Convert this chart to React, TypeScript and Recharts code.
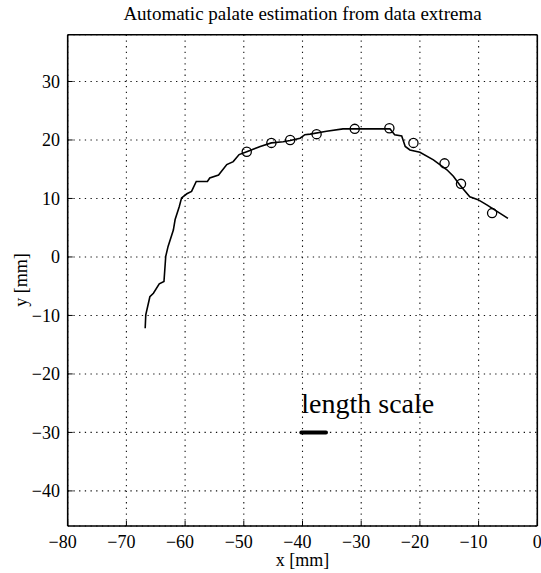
import React from 'react';
import { ComposedChart, Line, Scatter, XAxis, YAxis, CartesianGrid, ReferenceLine, ReferenceDot } from 'recharts';

const curveX = [-66.8, -66.7, -66.0, -65.4, -64.4, -63.6, -63.3, -62.9, -62.0, -61.7, -61.0, -60.6, -59.7, -58.9, -58.1, -56.2, -55.8, -54.3, -52.9, -51.8, -50.8, -49.5, -47.2, -45.3, -43.3, -42.1, -40.4, -39.6, -38.7, -35.9, -33.1, -30.2, -25.1, -24.3, -23.1, -22.5, -21.7, -20.0, -17.7, -15.4, -14.3, -13.2, -11.5, -10.1, -8.6, -6.4, -5.0];
const curveY = [-12.2, -9.9, -6.8, -6.2, -4.6, -4.2, 0.1, 1.8, 4.6, 6.4, 8.6, 10.1, 10.8, 11.2, 12.9, 12.9, 13.5, 14.0, 15.8, 16.3, 17.5, 18.0, 18.9, 19.5, 19.7, 19.9, 20.3, 20.9, 21.0, 21.5, 21.9, 21.9, 21.9, 20.9, 20.7, 18.9, 18.3, 17.9, 16.6, 14.9, 13.8, 12.3, 10.3, 9.8, 8.9, 7.5, 6.6];
const markerX = [-49.5, -45.3, -42.1, -37.6, -31.1, -25.2, -21.1, -15.8, -13.0, -7.7];
const markerY = [18.0, 19.5, 20.0, 21.0, 21.9, 22.0, 19.5, 16.0, 12.5, 7.5];
const xTicks = [-80, -70, -60, -50, -40, -30, -20, -10, 0];
const yTicks = [-40, -30, -20, -10, 0, 10, 20, 30];
const xDomain = [-80, 0];
const yDomain = [-46, 38];
const scaleBarX = [-40.2, -36.0];
const scaleBarY = -30;
const scaleLabelPos = { x: -40.2, y: -26.7 };
const titleText = 'Automatic palate estimation from data extrema';
const xLabelText = 'x [mm]';
const yLabelText = 'y [mm]';
const scaleLabelText = 'length scale';

const curveData = curveX.map((x, i) => ({ x, y: curveY[i] }));
const markerData = markerX.map((x, i) => ({ x, y: markerY[i] }));

const FONT = "'Liberation Serif', 'DejaVu Serif', serif";
const TICK_FS = 18;
const textStyle = { fontFamily: FONT };

const fmt = (v: number) => (v < 0 ? '\u2212' + Math.abs(v) : String(v));

const XTick = (props: any) => {
  const { x, y, payload } = props;
  const v = payload.value as number;
  const shift = v < 0 ? 0.282 * TICK_FS : 0;
  return (
    <text x={x - shift} y={y} dy="0.71em" textAnchor="middle" style={textStyle} fontSize={TICK_FS} fill="#000">
      {fmt(v)}
    </text>
  );
};

const YTick = (props: any) => {
  const { x, y, payload } = props;
  return (
    <text x={x} y={y} dy="0.35em" textAnchor="end" style={textStyle} fontSize={TICK_FS} fill="#000">
      {fmt(payload.value)}
    </text>
  );
};

const CircleShape = (props: any) => (
  <circle cx={props.cx} cy={props.cy} r={4.6} fill="none" stroke="#000" strokeWidth={1.3} />
);

const NoShape = () => null;

const ScaleLabel = (props: any) => (
  <text x={props.cx} y={props.cy} style={textStyle} fontSize={28} fill="#000">
    {scaleLabelText}
  </text>
);

const axisLineStyle = { stroke: '#000', strokeWidth: 1.6 };
const tickLineStyle = { stroke: '#000', strokeWidth: 1 };

export default function App() {
  return (
    <div style={{ position: 'fixed', left: 0, top: 0, width: 541, height: 573, background: '#fff' }}>
      <ComposedChart
        width={541}
        height={573}
        margin={{ top: 33.7, right: 2.7, bottom: 0, left: 0 }}
      >
        <CartesianGrid
          stroke="#111"
          strokeDasharray="1.3 4.4"
          strokeWidth={1.1}
          xAxisId="b"
          yAxisId="l"
        />
        <XAxis
          xAxisId="b"
          type="number"
          dataKey="x"
          domain={xDomain}
          ticks={xTicks}
          interval={0}
          height={47}
          tickSize={-5}
          tickMargin={14}
          tick={<XTick />}
          axisLine={axisLineStyle}
          tickLine={tickLineStyle}
          allowDataOverflow
        />
        <XAxis
          xAxisId="t"
          orientation="top"
          type="number"
          dataKey="x"
          domain={xDomain}
          ticks={xTicks}
          interval={0}
          height={1}
          tickSize={-5}
          tick={false}
          axisLine={axisLineStyle}
          tickLine={tickLineStyle}
          allowDataOverflow
        />
        <YAxis
          yAxisId="l"
          type="number"
          dataKey="y"
          domain={yDomain}
          ticks={yTicks}
          interval={0}
          width={67.7}
          tickSize={-5}
          tickMargin={12.7}
          tick={<YTick />}
          axisLine={axisLineStyle}
          tickLine={tickLineStyle}
          allowDataOverflow
        />
        <YAxis
          yAxisId="r"
          orientation="right"
          type="number"
          dataKey="y"
          domain={yDomain}
          ticks={yTicks}
          interval={0}
          width={1}
          tickSize={-5}
          tick={false}
          axisLine={axisLineStyle}
          tickLine={tickLineStyle}
          allowDataOverflow
        />
        <Line
          xAxisId="b"
          yAxisId="l"
          data={curveData}
          dataKey="y"
          type="linear"
          stroke="#000"
          strokeWidth={1.6}
          dot={false}
          activeDot={false}
          isAnimationActive={false}
        />
        <Scatter
          xAxisId="b"
          yAxisId="l"
          data={markerData}
          dataKey="y"
          shape={<CircleShape />}
          isAnimationActive={false}
        />
        <Scatter
          xAxisId="t"
          yAxisId="r"
          data={markerData}
          dataKey="y"
          shape={<NoShape />}
          isAnimationActive={false}
        />
        <ReferenceLine
          xAxisId="b"
          yAxisId="l"
          segment={[{ x: scaleBarX[0], y: scaleBarY }, { x: scaleBarX[1], y: scaleBarY }]}
          stroke="#000"
          strokeWidth={4}
          strokeLinecap="round"
        />
        <ReferenceDot
          xAxisId="b"
          yAxisId="l"
          x={scaleLabelPos.x}
          y={scaleLabelPos.y}
          r={0}
          shape={<ScaleLabel />}
        />
      </ComposedChart>
      <svg
        width={541}
        height={573}
        style={{ position: 'absolute', left: 0, top: 0, pointerEvents: 'none' }}
      >
        <text x={302.5} y={20} textAnchor="middle" style={textStyle} fontSize={19} fill="#000">
          {titleText}
        </text>
        <text x={302.5} y={566} textAnchor="middle" style={textStyle} fontSize={18} fill="#000">
          {xLabelText}
        </text>
        <text
          x={0}
          y={0}
          textAnchor="middle"
          style={textStyle}
          fontSize={18}
          fill="#000"
          transform="translate(27,280) rotate(-90)"
        >
          {yLabelText}
        </text>
      </svg>
    </div>
  );
}
